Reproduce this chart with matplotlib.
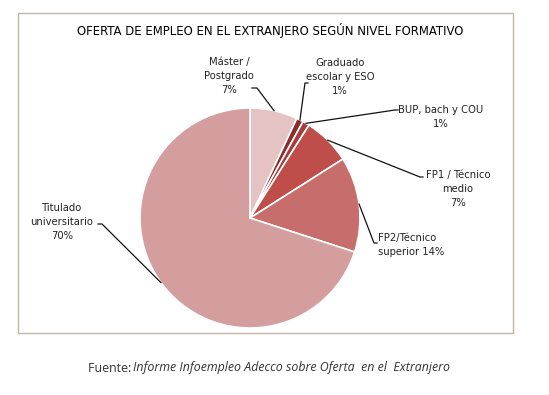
import matplotlib.pyplot as plt
import numpy as np
from matplotlib.patches import Rectangle

# datos (en %)
categorias = ["Máster /\nPostgrado\n7%", "Graduado\nescolar y ESO\n1%", "BUP, bach y COU\n1%",
              "FP1 / Técnico\nmedio\n7%", "FP2/Técnico\nsuperior 14%", "Titulado\nuniversitario\n70%"]
valores = [7, 1, 1, 7, 14, 70]
colores = ["#e5c3c3", "#8e2c2c", "#a83c3a", "#bf4d4a", "#c76e6d", "#d59e9e"]

titulo = "OFERTA DE EMPLEO EN EL EXTRANJERO SEGÚN NIVEL FORMATIVO"

W, H = 549, 395
fig = plt.figure(figsize=(W / 100, H / 100), dpi=100)
ax = fig.add_axes([0, 0, 1, 1])

cx, cy, r = 250, H - 218, 110
wedges, _ = ax.pie(valores, colors=colores, startangle=90, counterclock=False,
                   center=(cx, cy), radius=r,
                   wedgeprops=dict(edgecolor="white", linewidth=1.2))

# posición de las etiquetas (texto), codo de la línea guía y sentido del remate
etiquetas = [
    dict(txt=(229, 76), codo=(257, 88), gancho=-5, ha="center"),
    dict(txt=(340, 77), codo=(305, 83), gancho=3, ha="center"),
    dict(txt=(441, 117), codo=(395, 110), gancho=3, ha="center"),
    dict(txt=(458, 189), codo=(420, 177), gancho=3, ha="center"),
    dict(txt=(378, 245), codo=(374, 243), gancho=3, ha="left"),
    dict(txt=(62, 222), codo=(102, 224), gancho=-4, ha="center"),
]

fuente = ["DejaVu Sans"]
for w, lab, e in zip(wedges, categorias, etiquetas):
    ang = np.deg2rad((w.theta1 + w.theta2) / 2)
    px, py = cx + r * np.cos(ang), cy + r * np.sin(ang)
    kx, ky = e["codo"]
    ky = H - ky
    ax.plot([px, kx, kx + e["gancho"]], [py, ky, ky], color="#111111", lw=0.9)
    tx, ty = e["txt"]
    ax.text(tx, H - ty, lab, ha=e["ha"], va="center", fontsize=8,
            family=fuente, fontstretch="condensed", color="#222222", linespacing=1.45,
            multialignment="center" if e["ha"] == "center" else "left")

ax.add_patch(Rectangle((18, H - 333), 495, 320, fill=False, edgecolor="#c9b3a3", lw=1.0))

ax.text(270, H - 30, titulo, ha="center", va="center", fontsize=9.4,
        family=fuente, fontstretch="condensed", color="black")

ax.text(88, H - 368, "Fuente: ", ha="left", va="center", fontsize=8.9,
        family=["Open Sans", "DejaVu Sans"], color="#333333")
ax.text(133, H - 368, "Informe Infoempleo Adecco sobre Oferta  en el  Extranjero",
        ha="left", va="center", fontsize=8.9, style="italic",
        family=["Open Sans", "DejaVu Sans"], color="#333333")

ax.set_xlim(0, W)
ax.set_ylim(0, H)
ax.set_aspect("equal")
ax.axis("off")
fig.savefig("out.png", dpi=100)
